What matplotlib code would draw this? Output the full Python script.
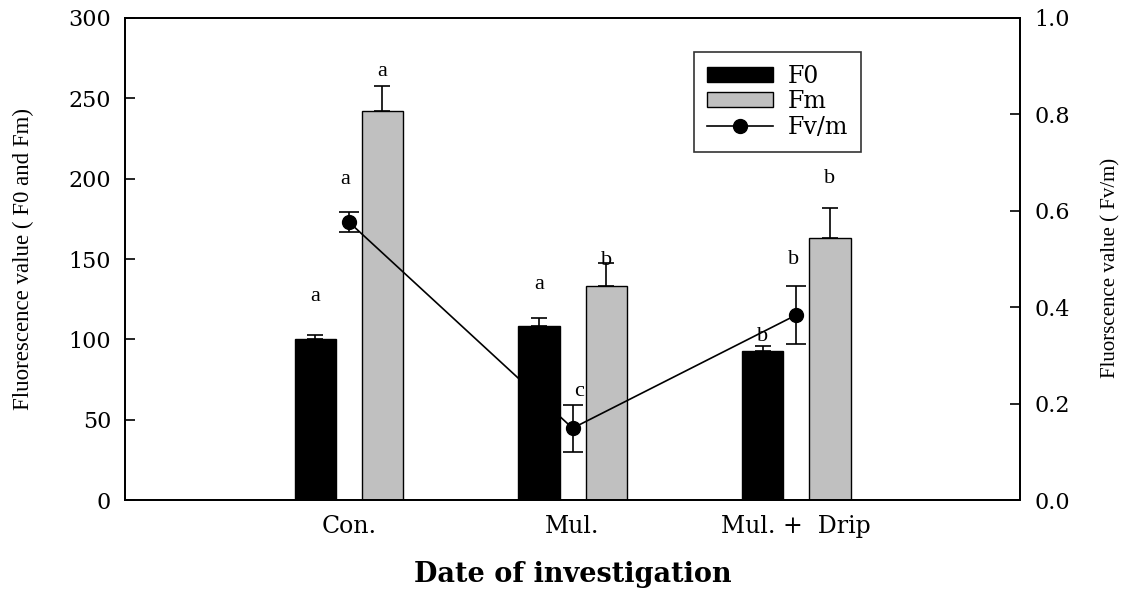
import matplotlib
matplotlib.use("Agg")
import matplotlib.pyplot as plt
import numpy as np
from matplotlib.lines import Line2D
from matplotlib.patches import Patch

plt.rcParams['font.family'] = ['Liberation Serif', 'DejaVu Serif']
WIDE = ['DejaVu Serif', 'Liberation Serif']

# data
treatments = ['Con.', 'Mul.', 'Mul. +  Drip']
f0 = [100, 108, 92.5]
f0_err = [2.5, 5.5, 3.5]
fm = [242, 133, 163]
fm_err = [15.5, 14.5, 18.5]
fvm = [0.577, 0.149, 0.384]
fvm_err = [0.021, 0.049, 0.06]
f0_letters = ['a', 'a', 'b']
fm_letters = ['a', 'b', 'b']
fvm_letters = ['a', 'c', 'b']

x = np.arange(1, len(treatments) + 1)
w = 0.184
off = 0.15

fig = plt.figure(figsize=(11.26, 5.9), dpi=100)
ax = fig.add_axes([0.111, 0.1525, 0.795, 0.817])
ax2 = ax.twinx()

ax.bar(x - off, f0, w, color='black', edgecolor='black', linewidth=1, zorder=2)
ax.bar(x + off, fm, w, color='#c0c0c0', edgecolor='black', linewidth=1, zorder=2)
ax.errorbar(x - off, f0, yerr=[np.zeros(3), f0_err], fmt='none', ecolor='black',
            elinewidth=1.2, capsize=6, capthick=1.2, zorder=3)
ax.errorbar(x + off, fm, yerr=[np.zeros(3), fm_err], fmt='none', ecolor='black',
            elinewidth=1.2, capsize=6, capthick=1.2, zorder=3)

ax2.errorbar(x, fvm, yerr=fvm_err, fmt='-o', color='black', ms=10, lw=1.2,
             elinewidth=1.2, capsize=7, capthick=1.2, zorder=4)

# significance letters
f0_off = [18, 14.5, 0]
fm_off = [3, -4.5, 12.5]
for i in range(3):
    ax.text(x[i] - off, f0[i] + f0_err[i] + f0_off[i], f0_letters[i],
            ha='center', va='bottom', fontsize=16)
    ax.text(x[i] + off, fm[i] + fm_err[i] + fm_off[i], fm_letters[i],
            ha='center', va='bottom', fontsize=16)
fvm_off = [0.047, 0.007, 0.035]
fvm_dx = [-0.018, 0.027, -0.013]
for i in range(3):
    ax2.text(x[i] + fvm_dx[i], fvm[i] + fvm_err[i] + fvm_off[i], fvm_letters[i],
             ha='center', va='bottom', fontsize=16)

ax.set_xlim(0, 4)
ax.set_ylim(0, 300)
ax2.set_ylim(0, 1.0)
ax.set_xticks(x)
ax.set_xticklabels(treatments, fontsize=17, family=WIDE)
ax.tick_params(axis='x', length=0, pad=11)
ax.set_yticks(np.arange(0, 301, 50))
ax.tick_params(axis='y', direction='in', length=7, width=1.2, labelsize=16, pad=10)
ax2.set_yticks(np.arange(0, 1.01, 0.2))
ax2.set_yticklabels(['%.1f' % v for v in np.arange(0, 1.01, 0.2)])
ax2.tick_params(axis='y', direction='in', length=7, width=1.2, labelsize=16, pad=10)
for lab in ax.get_yticklabels() + ax2.get_yticklabels():
    lab.set_family(WIDE)
for a in (ax, ax2):
    for s in a.spines.values():
        s.set_linewidth(1.3)

ax.set_ylabel('Fluorescence value ( F0 and Fm)', fontsize=16.5)
ax.yaxis.set_label_coords(-0.1017, 0.5)
ax2.set_ylabel('Fluorscence value ( Fv/m)', fontsize=15)
ax2.yaxis.set_label_coords(1.0905, 0.481)
ax.set_xlabel('Date of investigation', fontsize=19.5, fontweight='bold',
              family=WIDE, labelpad=16)

handles = [Patch(facecolor='black', edgecolor='black'),
           Patch(facecolor='#c0c0c0', edgecolor='black'),
           Line2D([], [], color='black', marker='o', ms=10, lw=1.2)]
leg = ax.legend(handles, ['F0', 'Fm', 'Fv/m'], loc='upper left',
                bbox_to_anchor=(0.606, 0.932), bbox_transform=fig.transFigure,
                prop={'family': WIDE, 'size': 17}, frameon=True, fancybox=False,
                handlelength=2.8, handleheight=0.6, labelspacing=0.1,
                borderpad=0.55, handletextpad=0.6)
leg.get_frame().set_edgecolor('black')
leg.get_frame().set_linewidth(1.2)
leg.set_zorder(10)

fig.savefig('out.png', dpi=100)
